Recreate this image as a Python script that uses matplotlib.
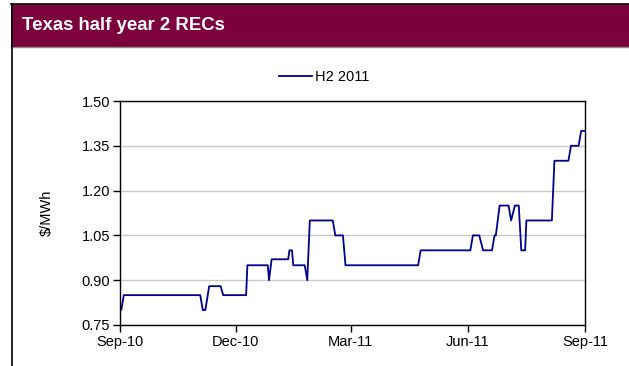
import matplotlib
matplotlib.use("Agg")
import matplotlib.pyplot as plt
import matplotlib.dates as mdates
import numpy as np
import pandas as pd

plt.rcParams['font.family'] = ['Liberation Sans', 'DejaVu Sans']

# H2 2011 Texas REC price, $/MWh (breakpoints)
dates = ['2010-09-01', '2010-09-02', '2010-09-04', '2010-11-03', '2010-11-05',
         '2010-11-07', '2010-11-10', '2010-11-19', '2010-11-21', '2010-12-09',
         '2010-12-10', '2010-12-26', '2010-12-27', '2010-12-29', '2011-01-11',
         '2011-01-12', '2011-01-14', '2011-01-15', '2011-01-24', '2011-01-26',
         '2011-01-28', '2011-02-15', '2011-02-17', '2011-02-23', '2011-02-25',
         '2011-04-23', '2011-04-25', '2011-06-03', '2011-06-05', '2011-06-10',
         '2011-06-13', '2011-06-20', '2011-06-22', '2011-06-23', '2011-06-26',
         '2011-07-03', '2011-07-05', '2011-07-08', '2011-07-11', '2011-07-13',
         '2011-07-16', '2011-07-17', '2011-08-06', '2011-08-08', '2011-08-19',
         '2011-08-21', '2011-08-27', '2011-08-29', '2011-09-01']
prices = [0.80, 0.80, 0.85, 0.85, 0.80,
          0.80, 0.88, 0.88, 0.85, 0.85,
          0.95, 0.95, 0.90, 0.97, 0.97,
          1.00, 1.00, 0.95, 0.95, 0.90,
          1.10, 1.10, 1.05, 1.05, 0.95,
          0.95, 1.00, 1.00, 1.05, 1.05,
          1.00, 1.00, 1.05, 1.05, 1.15,
          1.15, 1.10, 1.15, 1.15, 1.00,
          1.00, 1.10, 1.10, 1.30, 1.30,
          1.35, 1.35, 1.40, 1.40]
xticks = ['2010-09-01', '2010-12-01', '2011-03-01', '2011-06-01', '2011-09-01']
yticks = [0.75, 0.90, 1.05, 1.20, 1.35, 1.50]

x = pd.to_datetime(dates)

fig = plt.figure(figsize=(6.29, 3.66), dpi=100)
W, H = 629, 366

# header band
fig.patches.append(plt.Rectangle((11/W, 1-47/H), 1-11/W, 43/H, transform=fig.transFigure,
                                 facecolor='#7b003c', edgecolor='none'))
fig.add_artist(plt.Line2D([11/W, 1], [1-4/H, 1-4/H], color='black', lw=1.2))
fig.add_artist(plt.Line2D([11/W, 1], [1-47/H, 1-47/H], color='#888888', lw=1))
fig.add_artist(plt.Line2D([11.5/W, 11.5/W], [0, 1-4/H], color='black', lw=1.2))
fig.text(22/W, 1-26/H, 'Texas half year 2 RECs', color='white', fontsize=13.4,
         fontweight='bold', va='center', ha='left')

ax = fig.add_axes([120/W, 1-325/H, 465/W, 224/H])
ax.plot(x, prices, color='#000088', lw=1.3, label='H2 2011')
ax.set_ylim(0.75, 1.50)
ax.set_yticks(yticks)
ax.set_yticklabels(['%.2f' % v for v in yticks])
ax.set_xlim(pd.Timestamp(xticks[0]), pd.Timestamp(xticks[-1]))
ax.set_xticks(pd.to_datetime(xticks))
ax.xaxis.set_major_formatter(mdates.DateFormatter('%b-%y'))
ax.grid(axis='y', color='#c8c8c8', lw=1)
ax.set_axisbelow(True)
ax.spines['top'].set_visible(False)
ax.spines['right'].set_visible(False)
ax.axhline(1.50, color='black', lw=1, clip_on=False)
ax.axvline(ax.get_xlim()[1], color='black', lw=1, clip_on=False)
for s in ['left', 'bottom']:
    ax.spines[s].set_linewidth(1)
ax.tick_params(axis='both', direction='out', length=5, width=1, labelsize=10.5, pad=2)
ax.set_ylabel('$/MWh', fontsize=10.5, labelpad=20)

fig.legend(loc='center', bbox_to_anchor=(324/W, 1-77/H), frameon=False, fontsize=10.5,
           handlelength=2.3, handletextpad=0.2)

fig.savefig('out.png', dpi=100)
